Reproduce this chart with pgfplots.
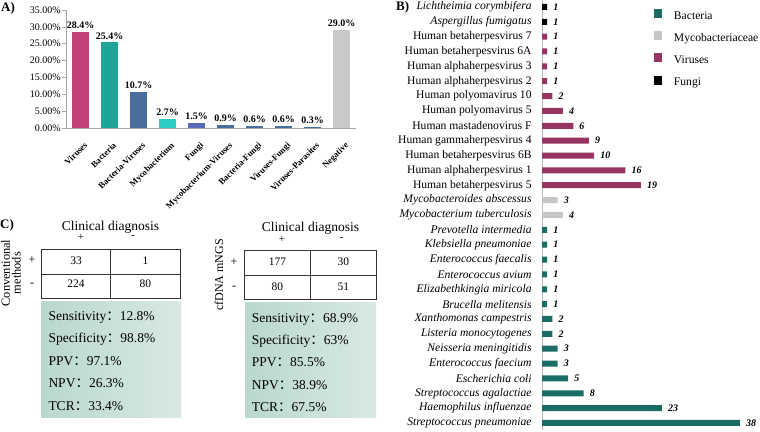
\documentclass[border=0pt]{standalone}
\usepackage{pgfplots}
\pgfplotsset{compat=1.18}
\usepackage{fontspec}
\setmainfont{Liberation Serif}
\newfontfamily\cjk{Noto Sans CJK SC}
\newcommand{\fs}[1]{\fontsize{#1bp}{#1bp}\selectfont}
\definecolor{cVir}{HTML}{C1437A}
\definecolor{cBac}{HTML}{20A498}
\definecolor{cBV}{HTML}{4A6E9B}
\definecolor{cMyc}{HTML}{2DCBC5}
\definecolor{cFun}{HTML}{5A6BB6}
\definecolor{cNeg}{HTML}{C9C9C9}
\definecolor{bBac}{HTML}{1C6C66}
\definecolor{bMyc}{HTML}{C6C6C6}
\definecolor{bVir}{HTML}{973462}
\definecolor{bFun}{HTML}{000000}
\definecolor{gA}{HTML}{BAD8CD}
\definecolor{gB}{HTML}{D8E9E2}
\pgfplotsset{/pgf/number format/assume math mode=true,
  zbar/.style={bar shift=0pt, draw=none}}
\begin{document}
\begin{tikzpicture}
\useasboundingbox (0,0) rectangle (760bp,432bp);
% ---------------- Panel A ----------------
\node[anchor=west, font=\bfseries\fs{13}, inner sep=0pt] at (1bp,424bp) {A)};
\begin{axis}[
  at={(66bp,304bp)}, anchor=south west, scale only axis,
  width=290bp, height=118bp,
  xmin=-0.5, xmax=9.5, ymin=0, ymax=35,
  ybar, bar width=17bp,
  axis x line*=bottom, axis y line*=left,
  axis line style={draw=gray!70, line width=0.6bp},
  ytick={0,5,...,35},
  yticklabels={0.00\%,5.00\%,10.00\%,15.00\%,20.00\%,25.00\%,30.00\%,35.00\%},
  yticklabel style={font=\fs{10}, inner sep=1bp},
  tick align=outside, major tick length=4bp,
  ytick style={draw=gray!70, line width=0.6bp},
  xtick={0,...,9},
  xticklabels={Viruses,Bacteria,Bacteria-Viruses,Mycobacterium,Fungi,Mycobacterium-Viruses,Bacteria-Fungi,Viruses-Fungi,Viruses-Parasites,Negative},
  xtick style={draw=none},
  xticklabel style={font=\bfseries\fs{8.7}, xshift=3bp, yshift=-8bp, rotate=45, anchor=north east, inner sep=1bp},
  nodes near coords={\pgfmathprintnumber[fixed,fixed zerofill,precision=1]{\pgfplotspointmeta}\%},
  nodes near coords style={font=\bfseries\fs{10}, inner sep=3bp},
  clip=false,
]
\addplot[zbar, fill=cVir] coordinates {(0,28.4)};
\addplot[zbar, fill=cBac] coordinates {(1,25.4)};
\addplot[zbar, fill=cBV]  coordinates {(2,10.7)};
\addplot[zbar, fill=cMyc] coordinates {(3,2.7)};
\addplot[zbar, fill=cFun] coordinates {(4,1.5)};
\addplot[zbar, fill=cBV]  coordinates {(5,0.9)};
\addplot[zbar, fill=cBV]  coordinates {(6,0.6)};
\addplot[zbar, fill=cBV]  coordinates {(7,0.6)};
\addplot[zbar, fill=cBV]  coordinates {(8,0.3)};
\addplot[zbar, fill=cNeg] coordinates {(9,29.0)};
\end{axis}
% ---------------- Panel B ----------------
\node[anchor=west, font=\bfseries\fs{13}, inner sep=0pt] at (396bp,425bp) {B)};
\begin{axis}[
  at={(542bp,1.57bp)}, anchor=south west, scale only axis,
  width=208.4bp, height=430.94bp,
  xmin=0, xmax=40, ymin=-0.5, ymax=28.5,
  xbar, bar width=6bp,
  axis x line=none, axis y line*=left,
  y axis line style={draw=gray!55, line width=0.6bp},
  ytick={0,...,28}, ytick style={draw=none},
  yticklabels={
    \textit{Streptococcus pneumoniae},\textit{Haemophilus influenzae},\textit{Streptococcus agalactiae},
    \textit{Escherichia coli},\textit{Enterococcus faecium},\textit{Neisseria meningitidis},
    \textit{Listeria monocytogenes},\textit{Xanthomonas campestris},\textit{Brucella melitensis},
    \textit{Elizabethkingia miricola},\textit{Enterococcus avium},\textit{Enterococcus faecalis},
    \textit{Klebsiella pneumoniae},\textit{Prevotella intermedia},\textit{Mycobacterium tuberculosis},
    \textit{Mycobacteroides abscessus},Human betaherpesvirus 5,Human alphaherpesvirus 1,
    Human betaherpesvirus 6B,Human gammaherpesvirus 4,Human mastadenovirus F,
    Human polyomavirus 5,Human polyomavirus 10,Human alphaherpesvirus 2,
    Human alphaherpesvirus 3,Human betaherpesvirus 6A,Human betaherpesvirus 7,
    \textit{Aspergillus fumigatus},\textit{Lichtheimia corymbifera}},
  yticklabel style={font=\fs{11.6}, inner sep=0pt, xshift=-6bp},
  point meta=x,
  nodes near coords,
  nodes near coords style={font=\bfseries\itshape\fs{10}, anchor=west, inner sep=0pt, xshift=6bp},
  legend image code/.code={\fill[#1] (0bp,-1.3bp) rectangle (8.5bp,7.7bp);},
  legend style={at={(0.5374,0.978)}, anchor=north west, draw=none, fill=none,
    inner sep=0pt, outer sep=0pt, row sep=9bp, column sep=11.5bp,
    font=\fs{11.6}, nodes={inner sep=0pt, text height=8bp, text depth=3bp}},
  legend cell align=left,
  clip=false,
]
\addplot[zbar, fill=bBac] coordinates {
 (38,0) (23,1) (8,2) (5,3) (3,4) (3,5) (2,6) (2,7) (1,8) (1,9) (1,10) (1,11) (1,12) (1,13)};
\addplot[zbar, fill=bMyc] coordinates {(4,14) (3,15)};
\addplot[zbar, fill=bVir] coordinates {
 (19,16) (16,17) (10,18) (9,19) (6,20) (4,21) (2,22) (1,23) (1,24) (1,25) (1,26)};
\addplot[zbar, fill=bFun] coordinates {(1,27) (1,28)};
\legend{Bacteria,Mycobacteriaceae,Viruses,Fungi}
\end{axis}
% ---------------- Panel C ----------------
\node[anchor=west, font=\bfseries\fs{13}, inner sep=0pt] at (0bp,207bp) {C)};
% table 1
\fill[left color=gA, right color=gB] (41.7bp,130bp) rectangle (181bp,14bp);
\draw[line width=0.9bp, draw=black!80] (41.7bp,182.7bp) rectangle (180.5bp,133.7bp);
\draw[line width=0.9bp, draw=black!80] (41.7bp,158bp) -- (180.5bp,158bp);
\draw[line width=0.9bp, draw=black!80] (110.3bp,182.7bp) -- (110.3bp,133.7bp);
\node[anchor=base, font=\fs{13.5}, inner sep=0pt] at (110.5bp,201.5bp) {Clinical diagnosis};
\node[font=\fs{11}, inner sep=0pt] at (81bp,194.5bp) {+};
\node[font=\fs{11}, inner sep=0pt] at (133bp,194.5bp) {-};
\node[font=\fs{12}, inner sep=0pt] at (32bp,172bp) {+};
\node[font=\fs{12}, inner sep=0pt] at (32bp,147bp) {-};
\node[font=\fs{12.4}, align=center, rotate=90, inner sep=0pt] at (11bp,159bp) {Conventional\\[-1.5bp]methods};
\node[font=\fs{11.5}, inner sep=0pt] at (76bp,171.5bp) {33};
\node[font=\fs{11.5}, inner sep=0pt] at (145.4bp,171.5bp) {1};
\node[font=\fs{11.5}, inner sep=0pt] at (76bp,148bp) {224};
\node[font=\fs{11.5}, inner sep=0pt] at (145.4bp,148bp) {80};
\begin{scope}[every node/.style={anchor=base west, font=\fs{13.5}, inner sep=0pt}]
\node at (48.3bp,111bp) {Sensitivity{\cjk：}12.8\%};
\node at (48.3bp,89.5bp) {Specificity{\cjk：}98.8\%};
\node at (48.3bp,66bp) {PPV{\cjk：}97.1\%};
\node at (48.3bp,44bp) {NPV{\cjk：}26.3\%};
\node at (48.3bp,21.5bp) {TCR{\cjk：}33.4\%};
\end{scope}
% table 2
\fill[left color=gA, right color=gB] (245bp,129bp) rectangle (376bp,14bp);
\draw[line width=0.9bp, draw=black!80] (244.3bp,181.3bp) rectangle (376bp,132.7bp);
\draw[line width=0.9bp, draw=black!80] (244.3bp,157bp) -- (376bp,157bp);
\draw[line width=0.9bp, draw=black!80] (310.5bp,181.3bp) -- (310.5bp,132.7bp);
\node[anchor=base, font=\fs{13.5}, inner sep=0pt] at (310.5bp,200bp) {Clinical diagnosis};
\node[font=\fs{11}, inner sep=0pt] at (282bp,193bp) {+};
\node[font=\fs{11}, inner sep=0pt] at (341.7bp,193bp) {-};
\node[font=\fs{12}, inner sep=0pt] at (234bp,170bp) {+};
\node[font=\fs{12}, inner sep=0pt] at (234bp,144bp) {-};
\node[font=\fs{12}, rotate=90, inner sep=0pt] at (219bp,157bp) {cfDNA mNGS};
\node[font=\fs{11.5}, inner sep=0pt] at (277.4bp,170bp) {177};
\node[font=\fs{11.5}, inner sep=0pt] at (343.3bp,170bp) {30};
\node[font=\fs{11.5}, inner sep=0pt] at (277.4bp,145bp) {80};
\node[font=\fs{11.5}, inner sep=0pt] at (343.3bp,145bp) {51};
\begin{scope}[every node/.style={anchor=base west, font=\fs{13.5}, inner sep=0pt}]
\node at (251.7bp,109.5bp) {Sensitivity{\cjk：}68.9\%};
\node at (251.7bp,87bp) {Specificity{\cjk：}63\%};
\node at (251.7bp,65bp) {PPV{\cjk：}85.5\%};
\node at (251.7bp,42.5bp) {NPV{\cjk：}38.9\%};
\node at (251.7bp,20.5bp) {TCR{\cjk：}67.5\%};
\end{scope}
\end{tikzpicture}
\end{document}
